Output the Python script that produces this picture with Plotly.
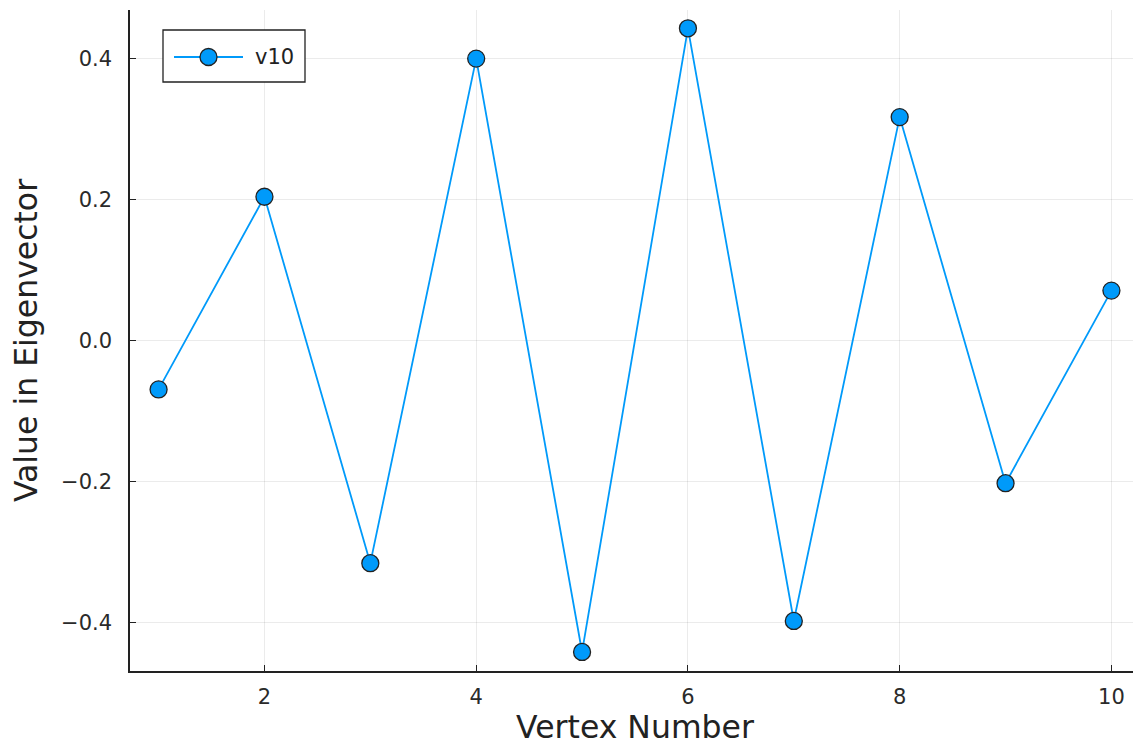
import plotly.graph_objects as go

vertices = [1, 2, 3, 4, 5, 6, 7, 8, 9, 10]
v10 = [-0.0694, 0.204, -0.316, 0.400, -0.442, 0.443, -0.398, 0.317, -0.2025, 0.0708]
series_name = "v10"
x_ticks = [2, 4, 6, 8, 10]
y_ticks = [-0.4, -0.2, 0.0, 0.2, 0.4]
y_tick_labels = ["\u22120.4", "\u22120.2", "0.0", "0.2", "0.4"]

COLOR = "#009AFA"
DARK = "#222222"
font_family = "DejaVu Sans, sans-serif"

W, H = 1133, 738
ML, MR, MT, MB = 122, 1, 2, 75
PW, PH = W - ML - MR, H - MT - MB


def px_x(p):
    return (p - 8 - ML) / PW


def px_y(p):
    return 1 - (p - 8 - MT) / PH


fig = go.Figure()
fig.add_trace(go.Scatter(
    x=vertices, y=v10, mode="lines+markers", name=series_name,
    line=dict(color=COLOR, width=1.8),
    marker=dict(size=17, color=COLOR, line=dict(color=DARK, width=1.3)),
    showlegend=False,
))

# Legend box drawn like the original (long line sample)
shapes = [
    dict(type="rect", xref="paper", yref="paper",
         x0=px_x(163), x1=px_x(305), y0=px_y(82), y1=px_y(30),
         line=dict(color=DARK, width=1.3), fillcolor="white", layer="above"),
    dict(type="line", xref="paper", yref="paper",
         x0=px_x(174), x1=px_x(243), y0=px_y(57), y1=px_y(57),
         line=dict(color=COLOR, width=1.8), layer="above"),
    dict(type="circle", xref="paper", yref="paper",
         x0=px_x(200), x1=px_x(217), y0=px_y(65.5), y1=px_y(48.5),
         line=dict(color=DARK, width=1.3), fillcolor=COLOR, layer="above"),
]
annotations = [
    dict(text=series_name, xref="paper", yref="paper", x=px_x(253), y=px_y(57),
         xanchor="left", yanchor="middle", showarrow=False,
         font=dict(size=21, family=font_family, color=DARK)),
]

fig.update_layout(
    width=W, height=H,
    margin=dict(l=ML, r=MR, t=MT, b=MB),
    paper_bgcolor="white", plot_bgcolor="white",
    font=dict(family=font_family, color=DARK),
    showlegend=False,
    shapes=shapes,
    annotations=annotations,
    xaxis=dict(
        range=[0.73, 10.27], tickvals=x_ticks,
        title=dict(text="Vertex Number", font=dict(size=31.5), standoff=8),
        showgrid=True, gridcolor="rgba(0,0,0,0.08)", gridwidth=1,
        showline=True, linecolor=DARK, linewidth=1.5,
        ticks="inside", ticklen=6, tickcolor=DARK, tickwidth=1.2,
        tickfont=dict(size=21, color="#2a2a2a"), zeroline=False, mirror=False,
        ticklabelstandoff=6,
    ),
    yaxis=dict(
        range=[-0.469, 0.469], tickvals=y_ticks, ticktext=y_tick_labels,
        title=dict(text="Value in Eigenvector", font=dict(size=31.5), standoff=15),
        showgrid=True, gridcolor="rgba(0,0,0,0.08)", gridwidth=1,
        showline=True, linecolor=DARK, linewidth=1.5,
        ticks="inside", ticklen=6, tickcolor=DARK, tickwidth=1.2,
        tickfont=dict(size=21, color="#2a2a2a"), zeroline=False, mirror=False,
        ticklabelstandoff=12,
    ),
)

fig.write_html("out.html")
